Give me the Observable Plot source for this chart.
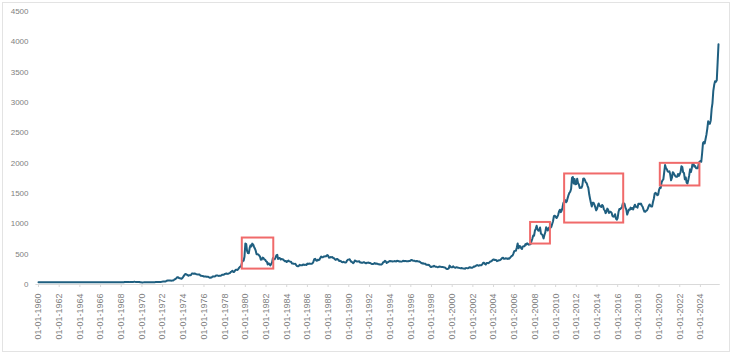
<!DOCTYPE html>
<html>
<head>
<meta charset="utf-8">
<script src="https://cdn.jsdelivr.net/npm/d3@7"></script>
<script src="https://cdn.jsdelivr.net/npm/@observablehq/plot@0.6"></script>
<style>
  html, body { margin: 0; padding: 0; background: #fff; }
  #chart { width: 732px; height: 356px; }
</style>
</head>
<body>
<div id="chart"></div>
<script>
// Monthly average gold price (USD/oz), Jan of first year onward
const startYear = 1960;
const prices1960s = [
  35.1,35.1,35.1,35.1,35.1,35.1,35.2,35.2,35.4,37.5,36.2,35.5,
  35.5,35.3,35.2,35.1,35.1,35.1,35.1,35.1,35.1,35.1,35.1,35.1,
  35.1,35.1,35.1,35.1,35.1,35.1,35.1,35.1,35.1,35.1,35.2,35.2,
  35.1,35.1,35.1,35.1,35.1,35.1,35.1,35.1,35.1,35.1,35.1,35.1,
  35.1,35.1,35.1,35.1,35.1,35.1,35.1,35.1,35.1,35.1,35.1,35.1,
  35.1,35.1,35.1,35.1,35.1,35.1,35.1,35.1,35.1,35.1,35.1,35.1,
  35.1,35.1,35.1,35.1,35.1,35.1,35.1,35.1,35.1,35.1,35.1,35.1,
  35.1,35.1,35.1,35.1,35.1,35.1,35.1,35.1,35.1,35.2,35.2,35.2,
  35.2,35.2,37.0,37.7,40.6,41.1,39.5,39.2,39.4,39.2,40.5,41.1,
  42.2,42.5,43.2,43.4,43.4,41.2,41.8,41.0,40.5,40.1,35.4,35.2
];
const prices1970s = [
  34.9,35.0,35.1,35.6,35.6,35.4,35.3,35.4,36.2,37.5,37.4,37.4,
  37.9,38.7,38.9,39.0,40.5,40.1,41.0,42.7,42.0,42.5,42.9,43.5,
  48,49,48,49,54,62,66,67,65,65,63,64,
  65,74,84,91,102,120,120,106,103,100,94,106,
  129,150,168,172,163,154,143,154,151,158,181,183,
  176,180,178,170,167,164,165,163,144,143,142,139,
  131,132,132,128,126,126,117,110,114,117,131,134,
  132,136,148,149,147,141,143,145,149,159,161,161,
  173,178,183,175,177,183,188,206,212,227,207,208,
  227,245,242,239,257,279,295,301,355,392,392,456
];
const prices1980s = [
  675,665,554,517,514,600,645,627,674,661,623,594,
  557,500,499,495,480,460,409,410,443,437,413,410,
  384,374,330,350,334,315,339,364,436,422,415,444,
  481,491,421,432,437,413,422,416,411,394,382,388,
  370,386,394,381,377,377,348,348,341,340,341,320,
  303,299,304,325,316,317,317,330,323,326,325,321,
  345,338,346,340,342,343,348,376,418,423,398,391,
  408,401,409,438,460,450,450,461,460,465,467,487,
  477,442,443,452,451,452,437,432,413,406,420,419,
  404,388,390,384,371,367,375,365,361,367,394,409
];
const prices1990s = [
  410,417,393,374,369,352,362,395,389,381,381,378,
  384,364,363,358,357,367,368,356,349,359,360,361,
  354,354,345,338,337,341,353,343,345,344,335,334,
  329,329,330,342,367,372,392,379,355,364,374,383,
  387,382,384,378,381,386,385,380,391,389,384,379,
  379,377,382,391,385,387,386,383,383,383,386,387,
  400,405,396,393,392,385,383,387,383,381,378,369,
  355,347,352,344,344,341,324,324,323,325,306,289,
  289,297,296,308,299,292,293,284,289,296,294,291,
  287,287,286,282,277,261,256,257,265,311,293,283
];
const prices2000s = [
  284,300,286,280,275,286,282,275,274,270,266,272,
  266,262,263,261,272,270,268,273,283,283,276,276,
  282,296,294,302,314,321,314,310,319,317,319,333,
  357,359,340,328,355,356,351,360,378,379,389,407,
  414,405,406,404,384,392,398,400,406,420,439,442,
  424,423,434,429,422,431,424,437,456,470,476,510,
  549,555,557,610,676,596,633,632,598,585,627,629,
  631,665,655,679,667,655,665,665,712,754,806,803,
  889,922,968,909,888,889,939,839,829,806,760,816,
  858,943,924,890,928,946,934,949,996,1043,1127,1134
];
const prices2010s = [
  1118,1095,1113,1148,1205,1233,1193,1215,1270,1343,1370,1391,
  1356,1372,1424,1474,1510,1529,1573,1756,1772,1665,1739,1652,
  1656,1743,1675,1649,1591,1598,1594,1630,1744,1747,1721,1685,
  1671,1627,1593,1487,1414,1343,1286,1347,1349,1316,1275,1222,
  1244,1300,1336,1299,1288,1279,1311,1296,1239,1223,1176,1200,
  1251,1227,1179,1198,1199,1181,1129,1118,1125,1159,1086,1068,
  1097,1200,1246,1242,1260,1276,1337,1341,1326,1267,1236,1152,
  1192,1234,1231,1267,1246,1260,1237,1283,1315,1280,1283,1265,
  1331,1331,1325,1335,1303,1282,1238,1202,1199,1215,1221,1250,
  1291,1320,1301,1286,1284,1359,1413,1500,1510,1495,1471,1480
];
const prices2020s = [
  1560,1597,1592,1682,1716,1732,1847,1968,1921,1900,1866,1858,
  1867,1808,1718,1760,1851,1834,1807,1785,1775,1777,1821,1790,
  1817,1856,1948,1937,1849,1837,1733,1765,1681,1665,1726,1798,
  1898,1854,1912,2000,1992,1943,1951,1918,1916,1916,1985,2027,
  2034,2023,2159,2331,2350,2326,2398,2470,2571,2690,2651,2648,
  2709,2895,2984,3193,3288,3352,3340,3365,3665,3960
];

const tickLabels = [
  "01-01-1960","01-01-1962","01-01-1964","01-01-1966","01-01-1968","01-01-1970",
  "01-01-1972","01-01-1974","01-01-1976","01-01-1978","01-01-1980","01-01-1982",
  "01-01-1984","01-01-1986","01-01-1988","01-01-1990","01-01-1992","01-01-1994",
  "01-01-1996","01-01-1998","01-01-2000","01-01-2002","01-01-2004","01-01-2006",
  "01-01-2008","01-01-2010","01-01-2012","01-01-2014","01-01-2016","01-01-2018",
  "01-01-2020","01-01-2022","01-01-2024"
];
const yTicks = [0,500,1000,1500,2000,2500,3000,3500,4000,4500];

// highlighted periods (red boxes): start, end, low, high
const boxStarts = ["1979-09-15","2007-08-01","2010-11-15","2020-02-15"];
const boxEnds   = ["1982-10-01","2009-07-01","2016-08-01","2023-12-15"];
const boxLows   = [254, 667, 1013, 1624];
const boxHighs  = [766, 1023, 1822, 1997];

const allPrices = [].concat(prices1960s, prices1970s, prices1980s, prices1990s, prices2000s, prices2010s, prices2020s);
const series = allPrices.map((v, i) => ({
  date: new Date(Date.UTC(startYear + Math.floor(i / 12), i % 12, 1)),
  price: v
}));
const boxes = boxStarts.map((s, i) => ({
  x1: new Date(s), x2: new Date(boxEnds[i]), y1: boxLows[i], y2: boxHighs[i]
}));
const tickDates = tickLabels.map(s => {
  const [d, m, y] = s.split("-").map(Number);
  return new Date(Date.UTC(y, m - 1, d));
});
const labelByTime = new Map(tickDates.map((d, i) => [d.getTime(), tickLabels[i]]));

const plot = Plot.plot({
  width: 732,
  height: 356,
  marginLeft: 38,
  marginRight: 14,
  marginTop: 11,
  marginBottom: 72,
  style: { fontFamily: "'Liberation Sans', Arial, sans-serif", background: "#fff", overflow: "visible" },
  x: {
    type: "utc",
    domain: [new Date(Date.UTC(1960, 0, 1)), new Date(Date.UTC(2025, 9, 1))]
  },
  y: { domain: [0, 4500] },
  marks: [
    Plot.ruleY([0], {
      x1: new Date(Date.UTC(1959, 9, 1)),
      x2: new Date(Date.UTC(2025, 11, 1)),
      stroke: "#d9d9d9", strokeWidth: 1
    }),
    Plot.axisX({
      ticks: tickDates,
      tickFormat: d => labelByTime.get(d.getTime()),
      tickRotate: -90,
      tickSize: 3,
      tickPadding: 6,
      stroke: "#d9d9d9",
      fill: "#7f7f7f",
      fontSize: 9,
      label: null
    }),
    Plot.axisY({
      ticks: yTicks,
      tickFormat: d => String(d),
      tickSize: 0,
      tickPadding: 10,
      fill: "#7f7f7f",
      fontSize: 8,
      label: null
    }),
    Plot.line(series, { x: "date", y: "price", stroke: "#1f5f80", strokeWidth: 2, curve: "linear" }),
    Plot.rect(boxes, { x1: "x1", x2: "x2", y1: "y1", y2: "y2", fill: "none", stroke: "#f06a6a", strokeWidth: 2 })
  ]
});

// outer chart frame
d3.select(plot).append("rect")
  .attr("x", 2.5).attr("y", 2.5).attr("width", 727).attr("height", 349)
  .attr("fill", "none").attr("stroke", "#e3e3e3").attr("stroke-width", 1);

document.getElementById("chart").appendChild(plot);
</script>
</body>
</html>
